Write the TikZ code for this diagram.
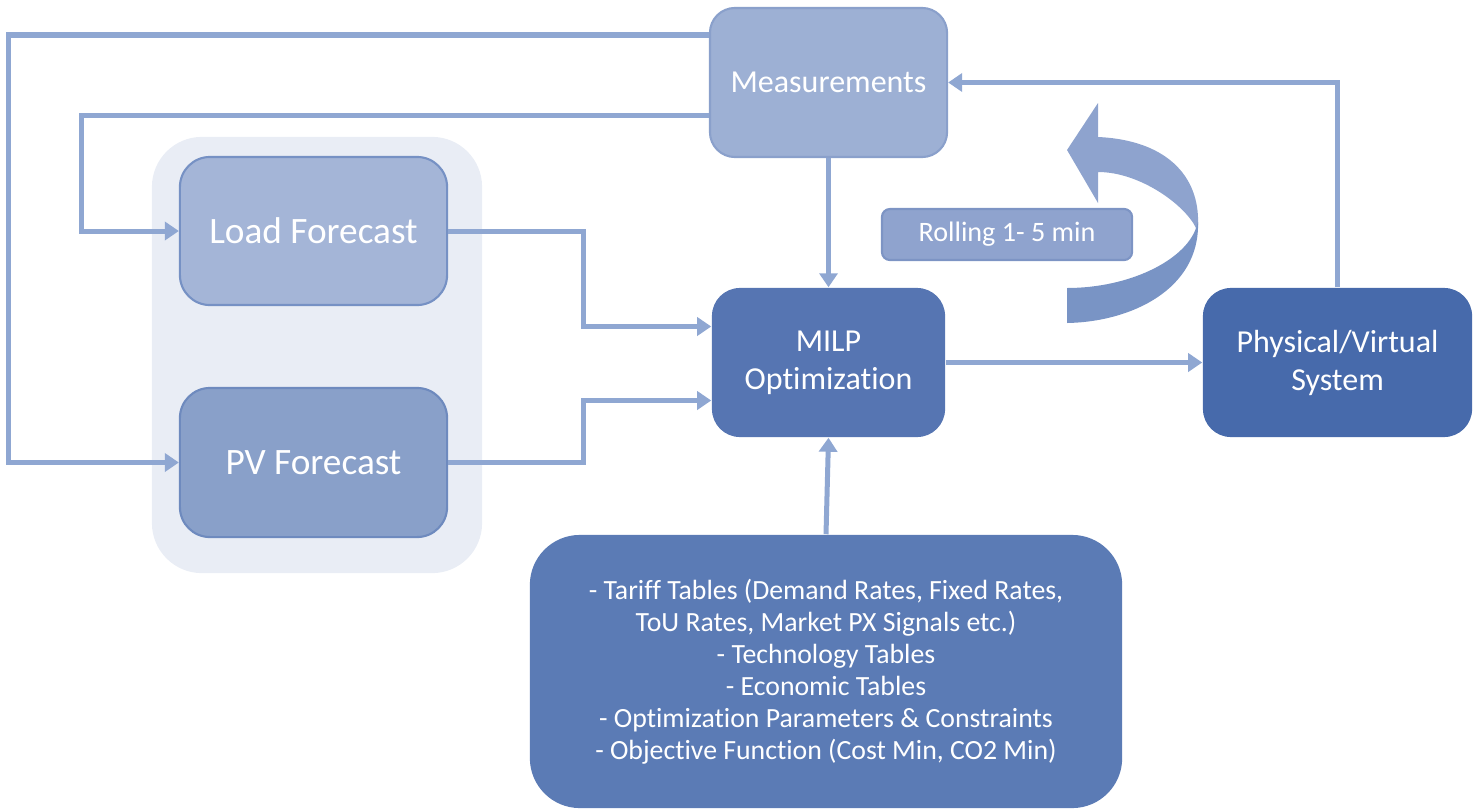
\documentclass[tikz,border=0pt]{standalone}
\usepackage{fontspec}
\setmainfont{Carlito}[Ligatures=NoCommon]
\usetikzlibrary{arrows.meta,calc}
\definecolor{lineC}{RGB}{143,167,210}
\definecolor{measF}{RGB}{157,176,212}
\definecolor{measD}{RGB}{138,160,203}
\definecolor{loadF}{RGB}{164,181,215}
\definecolor{loadD}{RGB}{118,145,196}
\definecolor{pvF}{RGB}{137,160,201}
\definecolor{pvD}{RGB}{110,138,190}
\definecolor{grpF}{RGB}{233,237,245}
\definecolor{milpF}{RGB}{86,117,178}
\definecolor{physF}{RGB}{71,106,171}
\definecolor{tarF}{RGB}{91,123,181}
\definecolor{rollF}{RGB}{143,163,206}
\definecolor{rollD}{RGB}{125,148,196}
\definecolor{curvL}{RGB}{142,163,206}
\definecolor{curvD}{RGB}{121,148,197}
\tikzset{
  boxbase/.style={rectangle, inner sep=0pt, text=white, align=center},
  conn/.style={draw=lineC, line width=0.05cm},
  arr/.style={conn, -{Triangle[length=0.14cm,width=0.18cm]}},
}
\begin{document}
\begin{tikzpicture}[x=0.01cm,y=-0.01cm]
\useasboundingbox (0,0) rectangle (1480,809);
% group background
\node[boxbase, fill=grpF, rounded corners=0.5cm, minimum width=3.30cm, minimum height=4.36cm] (grp) at (317,355) {};
% nodes
\node[boxbase, fill=measF, draw=measD, line width=0.6pt, rounded corners=0.25cm, minimum width=2.37cm, minimum height=1.49cm, font=\fontsize{9.1pt}{11pt}\selectfont] (meas) at (828.5,82.5) {Measurements};
\node[boxbase, fill=loadF, draw=loadD, line width=0.6pt, rounded corners=0.3cm, minimum width=2.67cm, minimum height=1.48cm, font=\fontsize{10.6pt}{12pt}\selectfont] (load) at (313.5,231) {Load Forecast};
\node[boxbase, fill=pvF, draw=pvD, line width=0.6pt, rounded corners=0.3cm, minimum width=2.67cm, minimum height=1.49cm, font=\fontsize{10.6pt}{12pt}\selectfont] (pv) at (313.5,462.5) {PV Forecast};
\node[boxbase, fill=milpF, rounded corners=0.28cm, minimum width=2.33cm, minimum height=1.49cm, font=\fontsize{9.1pt}{10.8pt}\selectfont] (milp) at (828.5,362.5) {\raisebox{-0.08cm}{}MILP\\Optimization};
\node[boxbase, fill=physF, rounded corners=0.28cm, minimum width=2.69cm, minimum height=1.49cm, font=\fontsize{9.1pt}{10.8pt}\selectfont] (phys) at (1337.5,362.5) {Physical/Virtual\\System};
\node[boxbase, fill=rollF, draw=rollD, line width=0.6pt, rounded corners=0.08cm, minimum width=2.50cm, minimum height=0.51cm, font=\fontsize{8pt}{9.6pt}\selectfont] (roll) at (1007,234.5) {Rolling 1- 5 min};
\node[boxbase, fill=tarF, rounded corners=0.5cm, minimum width=5.92cm, minimum height=2.73cm, font=\fontsize{7.9pt}{9.1pt}\selectfont] (tar) at (826,671.5) {- Tariff Tables (Demand Rates, Fixed Rates,\\ToU Rates, Market PX Signals etc.)\\- Technology Tables\\- Economic Tables\\- Optimization Parameters \& Constraints\\- Objective Function (Cost Min, CO2 Min)};
% curved block arrow
\fill[curvL] (1067,150) -- (1098,103) -- (1098,137) .. controls (1165,140) and (1200,175) .. (1198,225) -- (1196,228) .. controls (1185,205) and (1140,172) .. (1098,172) -- (1098,203) -- cycle;
\fill[curvD] (1198,222) .. controls (1200,290) and (1130,322) .. (1067,323) -- (1067,288) .. controls (1130,288) and (1185,260) .. (1196,228) -- cycle;
% connectors
\draw[arr] (load.east) -- ++(135,0) |- ($(milp.west)+(0,-36)$);
\draw[arr] (pv.east) -- ++(135,0) |- ($(milp.west)+(0,38)$);
\draw[arr] (meas.south) -- (milp.north);
\draw[arr] (tar.north) -- (milp.south);
\draw[arr] (milp.east) -- (phys.west);
\draw[arr] (phys.north) |- (meas.east);
\draw[arr] ($(meas.west)+(0,32.5)$) -| ($(load.west)+(-97,0)$) -- (load.west);
\draw[arr] ($(meas.west)+(0,-47.5)$) -| ($(pv.west)+(-170,0)$) -- (pv.west);
\end{tikzpicture}
\end{document}
